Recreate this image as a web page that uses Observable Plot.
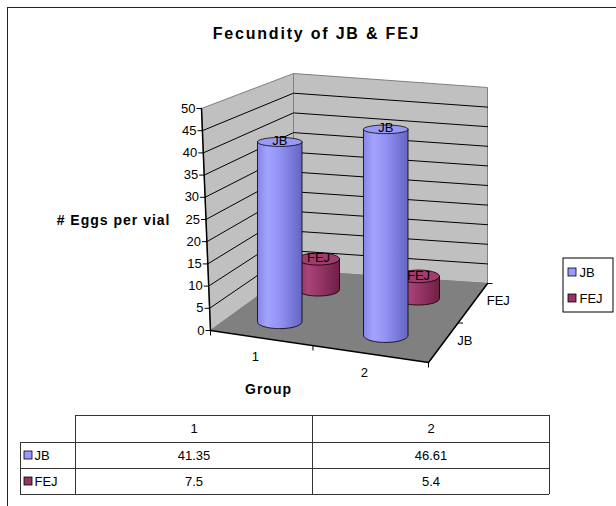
<!DOCTYPE html>
<html>
<head>
<meta charset="utf-8">
<script src="https://cdn.jsdelivr.net/npm/d3@7"></script>
<script src="https://cdn.jsdelivr.net/npm/@observablehq/plot@0.6"></script>
<style>
  body { margin: 0; background: #fff; }
  #chart svg { display: block; }
</style>
</head>
<body>
<div id="chart"></div>
<script>
// ---- data ----
const groups = ["1", "2"];
const series = ["JB", "FEJ"];
const jbValues = [41.35, 46.61];
const fejValues = [7.5, 5.4];
const valueTicks = [0, 5, 10, 15, 20, 25, 30, 35, 40, 45, 50];
const seriesColors = ["#9999ff", "#993366"];
const chartTitle = "Fecundity of JB & FEJ";
const valueAxisTitle = "# Eggs per vial";
const groupAxisTitle = "Group";

const seriesValues = [jbValues, fejValues];
const records = [];
series.forEach((s, si) => groups.forEach((g, gi) =>
  records.push({series: s, si, group: g, gi, value: seriesValues[si][gi]})));

// ---- scales for the three directions of the 3-D box ----
const groupScale = Plot.scale({x: {type: "band", domain: groups, range: [0, 1], padding: 0}});
const seriesScale = Plot.scale({x: {type: "band", domain: series, range: [0, 1], padding: 0}});
const valueScale = Plot.scale({y: {type: "linear", domain: [0, 50], range: [0, 1]}});

// floor corners (front-left, back-left, back-right, front-right) and the
// vertical extent of the box above each of them, in screen space
const floorCorners = {fl: [210, 330], bl: [293, 270], br: [487, 283], fr: [428, 362]};
const liftCorners = {fl: [-9, -222], bl: [0, -197], br: [0, -196], fr: [3, -232]};

function bilerp(c, u, w) {
  const a = (1 - u) * (1 - w), b = (1 - u) * w, d = u * w, e = u * (1 - w);
  return [a * c.fl[0] + b * c.bl[0] + d * c.br[0] + e * c.fr[0],
          a * c.fl[1] + b * c.bl[1] + d * c.br[1] + e * c.fr[1]];
}
// u: along groups, w: into depth (series), h: height fraction 0..1
function project(u, w, h) {
  const f = bilerp(floorCorners, u, w), l = bilerp(liftCorners, u, w);
  return [f[0] + h * l[0], f[1] + h * l[1]];
}
// slight foreshortening toward the far end of the group axis
const warpU = u => u - 0.03 * Math.sin(Math.PI * u);
const pts = (id, list) => list.map(([x, y]) => ({id, x, y}));

// ---- box: walls, floor, gridlines ----
const leftWall = pts("left", [project(0, 0, 0), project(0, 0, 1), project(0, 1, 1), project(0, 1, 0), project(0, 0, 0)]);
const backWall = pts("back", [project(0, 1, 0), project(0, 1, 1), project(1, 1, 1), project(1, 1, 0), project(0, 1, 0)]);
const floorPoly = pts("floor", [project(0, 0, 0), project(0, 1, 0), project(1, 1, 0), project(1, 0, 0)]);
const gridLines = valueTicks.filter(v => v > 0 && v < 50).flatMap(v => {
  const h = valueScale.apply(v);
  return pts(v, [project(0, 0, h), project(0, 1, h), project(1, 1, h)]);
});

// value axis along the front-left edge
const valueAxisLine = pts("vaxis", [project(0, 0, 0), project(0, 0, 1)]);
const valueTickRows = valueTicks.map(v => {
  const [x, y] = project(0, 0, valueScale.apply(v));
  return {v, x, y, x0: x - 5};
});

// group axis along the front floor edge, series axis along the right floor edge
const groupAxisLine = pts("gaxis", [project(0, 0, 0), project(1, 0, 0)]);
const seriesAxisLine = pts("saxis", [project(1, 0, 0), project(1, 1, 0)]);
const groupEdges = [0, groupScale.apply(groups[1]), 1];
const groupTickRows = groupEdges.map(u => { const [x, y] = project(warpU(u), 0, 0); return {x, y, y2: y + 5}; });
const seriesEdges = [seriesScale.apply(series[1]), 1];
const seriesTickRows = seriesEdges.map(w => { const [x, y] = project(1, w, 0); return {x, y, x2: x + 5}; });
const groupLabelRows = groups.map(g => {
  const [x, y] = project(warpU(groupScale.apply(g) + groupScale.bandwidth / 2), 0, 0);
  return {g, x: x - 5, y: y + 19};
});
const seriesLabelRows = series.map(s => {
  const [x, y] = project(1, seriesScale.apply(s) + seriesScale.bandwidth / 2, 0);
  return {s, x: x + 14, y: y - 2};
});

// ---- cylinders ----
const cylRadius = 0.105;
const arcSteps = 32;
function ellipseRy(y) { return 2.6 + 0.0134 * y; }
const cylinders = records.map(r => {
  const uc = warpU(groupScale.apply(r.group) + groupScale.bandwidth / 2);
  const wc = seriesScale.apply(r.series) + seriesScale.bandwidth / 2;
  const [bx, by] = project(uc, wc, 0);
  const [, ty] = project(uc, wc, valueScale.apply(r.value));
  const rx = (project(uc + cylRadius, wc, 0)[0] - project(uc - cylRadius, wc, 0)[0]) / 2;
  const ryB = ellipseRy(by), ryT = ellipseRy(ty);
  const id = r.series + r.group;
  const body = [[bx - rx, ty]];
  for (let i = 0; i <= arcSteps; i++) {
    const t = Math.PI * i / arcSteps;
    body.push([bx - rx * Math.cos(t), by + ryB * Math.sin(t)]);
  }
  body.push([bx + rx, ty]);
  body.push([bx - rx, ty]);
  const top = [];
  for (let i = 0; i <= arcSteps * 2; i++) {
    const t = Math.PI * i / arcSteps;
    top.push([bx + rx * Math.cos(t), ty + ryT * Math.sin(t)]);
  }
  return {...r, body: pts(id, body), top: pts(id, top), tx: bx, ty};
});
const backRow = cylinders.filter(c => c.series === series[1]);
const frontRow = cylinders.filter(c => c.series === series[0]);

const cylMarks = (row, s) => {
  const si = series.indexOf(s);
  return [
    Plot.line(row.flatMap(c => c.body), {x: "x", y: "y", z: "id", fill: `url(#grad-${si})`, stroke: "#000", strokeWidth: 0.8}),
    Plot.line(row.flatMap(c => c.top), {x: "x", y: "y", z: "id", fill: ["#9a9af4", "#a23c6c"][si], stroke: "#000", strokeWidth: 0.8}),
    Plot.text(row, {x: "tx", y: "ty", text: "series", fontSize: 13, fill: "#000", dy: -1})
  ];
};

// gradients used for the cylinder bodies
function gradients() {
  const ns = "http://www.w3.org/2000/svg";
  const defs = document.createElementNS(ns, "defs");
  const stops = [
    [[0, "#8585e6"], [0.22, "#a3a3ff"], [0.5, "#9292f4"], [1, "#6464c4"]],
    [[0, "#8a2c5c"], [0.25, "#a8457a"], [0.55, "#963465"], [1, "#6e1f47"]]
  ];
  stops.forEach((list, i) => {
    const g = document.createElementNS(ns, "linearGradient");
    g.setAttribute("id", `grad-${i}`);
    g.setAttribute("x1", "0"); g.setAttribute("x2", "1");
    g.setAttribute("y1", "0"); g.setAttribute("y2", "0");
    list.forEach(([o, c]) => {
      const st = document.createElementNS(ns, "stop");
      st.setAttribute("offset", o);
      st.setAttribute("stop-color", c);
      g.appendChild(st);
    });
    defs.appendChild(g);
  });
  return defs;
}

// ---- legend ----
const legendRows = series.map((s, i) => ({s, color: seriesColors[i], y: 272 + i * 26}));

// ---- data table ----
const colEdges = [20, 75, 312, 549];
const rowEdges = [415, 442, 468, 494];
const hLines = [
  {y: rowEdges[0], x1: colEdges[1], x2: colEdges[3]},
  ...rowEdges.slice(1).map(y => ({y, x1: colEdges[0], x2: colEdges[3]}))
];
const vLines = [
  {x: colEdges[0], y1: rowEdges[1], y2: rowEdges[3]},
  ...colEdges.slice(1).map(x => ({x, y1: rowEdges[0], y2: rowEdges[3]}))
];
const colCenter = i => (colEdges[i + 1] + colEdges[i + 2]) / 2;
const rowCenter = i => (rowEdges[i] + rowEdges[i + 1]) / 2;
const headerCells = groups.map((g, gi) => ({text: g, x: colCenter(gi), y: rowCenter(0)}));
const valueCells = records.map(r => ({text: String(r.value), x: colCenter(r.gi), y: rowCenter(r.si + 1)}));
const keyCells = series.map((s, si) => ({s, color: seriesColors[si], y: rowCenter(si + 1)}));

const font = "'Liberation Sans', Arial, sans-serif";

const chart = Plot.plot({
  width: 616,
  height: 506,
  margin: 0,
  x: {type: "linear", domain: [0, 616], range: [0, 616], axis: null},
  y: {type: "linear", domain: [0, 506], range: [0, 506], axis: null},
  style: {fontFamily: font, background: "#fff", color: "#000"},
  marks: [
    gradients,
    // chart area border
    Plot.ruleX([7], {y1: 7, y2: 506, stroke: "#222"}),
    Plot.ruleY([7], {x1: 7, x2: 616, stroke: "#222"}),
    // title
    Plot.text([chartTitle], {x: 316, y: 33, text: d => d, fontSize: 16, fontWeight: "bold", fill: "#000"}),
    // walls and floor
    Plot.line(leftWall, {x: "x", y: "y", fill: "#c0c0c0", stroke: "#808080", strokeWidth: 1}),
    Plot.line(backWall, {x: "x", y: "y", fill: "#c0c0c0", stroke: "#808080", strokeWidth: 1}),
    Plot.line(floorPoly, {x: "x", y: "y", fill: "#808080", stroke: "#808080", strokeWidth: 1}),
    Plot.line(gridLines, {x: "x", y: "y", z: "id", stroke: "#000", strokeWidth: 1}),
    // axes
    Plot.line(valueAxisLine, {x: "x", y: "y", stroke: "#000"}),
    Plot.link(valueTickRows, {x1: "x0", x2: "x", y1: "y", y2: "y", stroke: "#000"}),
    Plot.text(valueTickRows, {x: "x0", y: "y", text: "v", textAnchor: "end", dx: -1, fontSize: 13, fill: "#000"}),
    Plot.line(groupAxisLine, {x: "x", y: "y", stroke: "#000"}),
    Plot.link(groupTickRows, {x1: "x", x2: "x", y1: "y", y2: "y2", stroke: "#000"}),
    Plot.line(seriesAxisLine, {x: "x", y: "y", stroke: "#000"}),
    Plot.link(seriesTickRows, {x1: "x", x2: "x2", y1: "y", y2: "y", stroke: "#000"}),
    Plot.text(groupLabelRows, {x: "x", y: "y", text: "g", fontSize: 13, fill: "#000"}),
    Plot.text(seriesLabelRows, {x: "x", y: "y", text: "s", textAnchor: "start", fontSize: 13, fill: "#000"}),
    Plot.text([valueAxisTitle], {x: 170, y: 220, text: d => d, textAnchor: "end", fontSize: 14, fontWeight: "bold", fill: "#000"}),
    Plot.text([groupAxisTitle], {x: 268, y: 389, text: d => d, fontSize: 14, fontWeight: "bold", fill: "#000"}),
    // cylinders, back row first
    ...cylMarks(backRow, series[1]),
    ...cylMarks(frontRow, series[0]),
    // legend
    Plot.rect([0], {x1: 563, x2: 613, y1: 258, y2: 312, fill: "#fff", stroke: "#000"}),
    Plot.rect(legendRows, {x1: 568, x2: 576, y1: d => d.y - 4, y2: d => d.y + 4, fill: "color", stroke: "#000", strokeWidth: 0.8}),
    Plot.text(legendRows, {x: 579, y: "y", text: "s", textAnchor: "start", fontSize: 13, fill: "#000"}),
    // data table
    Plot.ruleY(hLines, {y: "y", x1: "x1", x2: "x2", stroke: "#333"}),
    Plot.ruleX(vLines, {x: "x", y1: "y1", y2: "y2", stroke: "#333"}),
    Plot.text(headerCells, {x: "x", y: "y", text: "text", fontSize: 13, fill: "#000"}),
    Plot.text(valueCells, {x: "x", y: "y", text: "text", fontSize: 13, fill: "#000"}),
    Plot.rect(keyCells, {x1: 24, x2: 32, y1: d => d.y - 4, y2: d => d.y + 4, fill: "color", stroke: "#000", strokeWidth: 0.8}),
    Plot.text(keyCells, {x: 34, y: "y", text: "s", textAnchor: "start", fontSize: 13, fill: "#000"})
  ]
});

// wider tracking on the titles
const spacing = new Map([[chartTitle, "1.8px"], [valueAxisTitle, "1px"], [groupAxisTitle, "1px"]]);
chart.querySelectorAll("text").forEach(t => {
  if (spacing.has(t.textContent)) t.setAttribute("letter-spacing", spacing.get(t.textContent));
});
document.getElementById("chart").appendChild(chart);
</script>
</body>
</html>
